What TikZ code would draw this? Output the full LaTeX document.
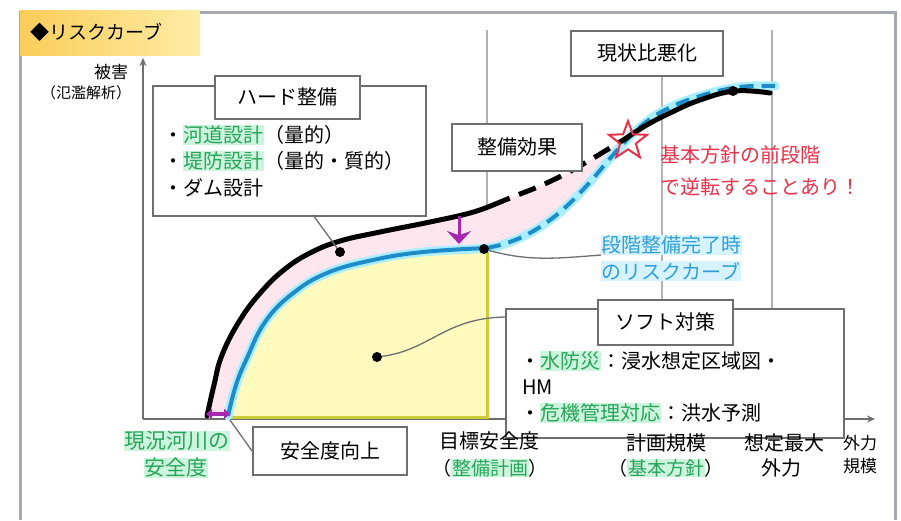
\documentclass[tikz,border=0pt]{standalone}
\usepackage{fontspec}
\setmainfont{Noto Sans CJK JP}
\usetikzlibrary{shapes.geometric,arrows.meta}
\definecolor{framec}{RGB}{168,168,176}
\definecolor{gridc}{RGB}{178,178,178}
\definecolor{boxc}{RGB}{110,110,110}
\definecolor{pinkc}{RGB}{253,230,238}
\definecolor{yelc}{RGB}{255,250,190}
\definecolor{yelb}{RGB}{205,205,60}
\definecolor{bluec}{RGB}{30,140,200}
\definecolor{cyanc}{RGB}{170,238,255}
\definecolor{grn}{RGB}{40,165,90}
\definecolor{mint}{RGB}{205,245,222}
\definecolor{redc}{RGB}{232,50,75}
\definecolor{purp}{RGB}{165,40,175}
\definecolor{lblue}{RGB}{50,160,215}
\definecolor{lbluebg}{RGB}{215,243,255}
\definecolor{titleL}{RGB}{250,205,90}
\definecolor{titleR}{RGB}{255,236,165}
\newcommand{\gh}[1]{{\setlength{\fboxsep}{0.6pt}\colorbox{mint}{\textcolor{grn}{#1}}}}
\newcommand{\bh}[1]{{\setlength{\fboxsep}{0.6pt}\colorbox{lbluebg}{\textcolor{lblue}{#1}}}}
\begin{document}
\begin{tikzpicture}[x=1pt,y=-1pt,
  txt/.style={font=\fontsize{20}{24}\selectfont, inner sep=0pt},
  small/.style={font=\fontsize{17}{20}\selectfont, inner sep=0pt},
  boxn/.style={draw=boxc, line width=2pt, fill=white, font=\fontsize{20}{24}\selectfont},
  ptr/.style={draw=boxc, line width=1.3pt},
  dotn/.style={circle, fill=black, inner sep=0pt, minimum size=10pt},
  gridl/.style={draw=gridc, line width=2pt},
  axisl/.style={draw=boxc, line width=1.5pt, -{Stealth[length=8pt,width=7pt]}},
  blk/.style={draw=black, line width=5pt, line cap=round},
  bluel/.style={draw=bluec, line width=4pt},
  blueh/.style={draw=cyanc, line width=9pt, line cap=round}]
\useasboundingbox (0,0) rectangle (901,520);
\fill[white] (0,0) rectangle (901,520);
% frame
\draw[framec, line width=3pt] (20,520) -- (20,12) -- (895,12) -- (895,520);
\node[left color=titleL, right color=titleR, minimum width=180pt, minimum height=45pt,
      anchor=north west, inner sep=0pt, text width=160pt, align=left,
      font=\fontsize{19}{22}\selectfont] (title) at (20,10) {◆リスクカーブ};
% vertical guide lines
\draw[gridl] (487,30) -- (487,248);
\draw[gridl] (662,30) -- (662,419);
\draw[gridl] (772,30) -- (772,419);
% pink band
\fill[pinkc] plot[smooth,tension=0.7] coordinates {(207,416) (214,385) (222,355) (240,320) (262,291) (285,269) (310,253) (340,241) (380,232) (430,222) (470,213) (493,205) (515,196) (540,186) (565,174) (590,160) (610,148) (625,139)}
  -- plot[smooth,tension=0.7] coordinates {(622,145) (607,162) (590,182) (570,203) (550,220) (528,234) (507,243) (487,248) (423,252) (373,260) (327,273) (292,294) (265,322) (247,358) (236,385) (228,416)} -- cycle;
% yellow region
\fill[yelc] plot[smooth,tension=0.7] coordinates {(228,416) (236,385) (247,358) (265,322) (292,294) (327,273) (373,260) (423,252) (487,248)} -- (487,417) -- (228,417) -- cycle;
% axes
\coordinate (O) at (143,419);
\coordinate (ytip) at (143,58);
\coordinate (xtip) at (875,419);
\draw[axisl] (O) -- (ytip);
\draw[axisl] (O) -- (xtip);
\draw[yelb, line width=3pt] (487,248) -- (487,417) -- (228,417);
% blue curve
\draw[blueh] plot[smooth,tension=0.7] coordinates {(228,416) (236,385) (247,358) (265,322) (292,294) (327,273) (373,260) (423,252) (487,248) (507,243) (528,234) (550,220) (570,203) (590,182) (607,162) (622,145) (640,127) (665,110) (700,96) (740,87) (775,86)};
\draw[bluel] plot[smooth,tension=0.7] coordinates {(228,416) (236,385) (247,358) (265,322) (292,294) (327,273) (373,260) (423,252) (487,248)};
\draw[bluel, dash pattern=on 14pt off 8pt] plot[smooth,tension=0.7] coordinates {(487,248) (507,243) (528,234) (550,220) (570,203) (590,182) (607,162) (622,145) (640,127) (665,110) (700,96) (740,87) (775,86)};
% black curve
\draw[blk] plot[smooth,tension=0.7] coordinates {(207,416) (214,385) (222,355) (240,320) (262,291) (285,269) (310,253) (340,241) (380,232) (430,222) (470,213) (493,205)};
\draw[blk, line cap=butt, dash pattern=on 18pt off 10pt] plot[smooth,tension=0.7] coordinates {(493,205) (515,196) (540,186) (565,174) (590,160) (610,148) (625,139)};
\draw[blk] plot[smooth,tension=0.7] coordinates {(625,139) (645,126) (670,113) (700,100) (735,91) (770,93)};
% dots
\node[dotn] (dotH) at (340,252) {};
\node[dotn] (dotB) at (484,249) {};
\node[dotn] (dotT) at (733,91) {};
\node[dotn] (dotS) at (377,357) {};
% purple arrows
\draw[purp, line width=4pt, {Triangle[length=6pt,width=10pt]}-{Triangle[length=6pt,width=10pt]}] (206,414) -- (230,414);
\draw[purp, line width=3pt, -{Stealth[length=13pt,width=24pt]}] (459,216) -- (459,244);
% star
\node[star, star points=5, star point ratio=2.4, draw=redc, line width=2pt, minimum size=40pt, inner sep=0pt] (star) at (628,141) {};
% boxes
\node[boxn, minimum width=273pt, minimum height=130pt, anchor=north west] (hardbox) at (152,85) {};
\node[boxn, minimum width=145pt, minimum height=43pt] (hardtitle) at (287,97) {ハード整備};
\node[txt, anchor=west] (h1) at (163,135) {・\gh{河道設計}（量的）};
\node[txt, anchor=west] (h2) at (163,161) {・\gh{堤防設計}（量的・質的）};
\node[txt, anchor=west] (h3) at (163,188) {・ダム設計};
\node[boxn, minimum width=130pt, minimum height=47pt] (effect) at (517,147) {整備効果};
\node[boxn, minimum width=152pt, minimum height=45pt] (worse) at (647,53) {現状比悪化};
\node[boxn, minimum width=338pt, minimum height=129pt, anchor=north west] (softbox) at (505,308) {};
\node[boxn, minimum width=135pt, minimum height=45pt] (softtitle) at (665,322) {ソフト対策};
\node[txt, anchor=west] (s1) at (520,361) {・\gh{水防災}：浸水想定区域図・};
\node[txt, anchor=west] (s2) at (522,387) {HM};
\node[txt, anchor=west] (s3) at (520,413) {・\gh{危機管理対応}：洪水予測};
\node[boxn, minimum width=154pt, minimum height=48pt] (up) at (330,451) {安全度向上};
% red note
\node[txt, anchor=west, text=redc] (r1) at (660,155) {基本方針の前段階};
\node[txt, anchor=west, text=redc] (r2) at (660,187) {で逆転することあり！};
% blue label
\node[txt, anchor=west] (bl1) at (601,245) {\bh{段階整備完了時}};
\node[txt, anchor=west] (bl2) at (601,271) {\bh{のリスクカーブ}};
% pointers
\coordinate (hp) at (313,215);
\draw[ptr] (hp) -- (dotH);
\coordinate (softin) at (505,317);
\draw[ptr] (dotS) .. controls (430,350) and (445,318) .. (softin);
\draw[ptr] (dotB) .. controls (530,262) and (560,258) .. (bl1.south west);
\coordinate (upfrom) at (230,420);
\draw[ptr] (upfrom) -- (up.west);
% axis labels
\node[small] (ylab1) at (111,72) {被害};
\node[font=\fontsize{15}{18}\selectfont, inner sep=0pt] (ylab2) at (86,93) {（氾濫解析）};
\node[font=\fontsize{21}{24}\selectfont, inner sep=0pt] (xl1) at (177,441) {\gh{現況河川の}};
\node[font=\fontsize{21}{24}\selectfont, inner sep=0pt] (xl1b) at (176,468) {\gh{安全度}};
\node[txt] (xl2) at (489,441) {目標安全度};
\node[font=\fontsize{19}{22}\selectfont, inner sep=0pt] (xl2b) at (490,468) {（\gh{整備計画}）};
\node[txt] (xl3) at (666,443) {計画規模};
\node[font=\fontsize{19}{22}\selectfont, inner sep=0pt] (xl3b) at (666,468) {（\gh{基本方針}）};
\node[txt] (xl4) at (784,443) {想定最大};
\node[txt] (xl4b) at (781,468) {外力};
\node[small] (xl5) at (860,443) {外力};
\node[small] (xl5b) at (860,466) {規模};
\end{tikzpicture}
\end{document}
